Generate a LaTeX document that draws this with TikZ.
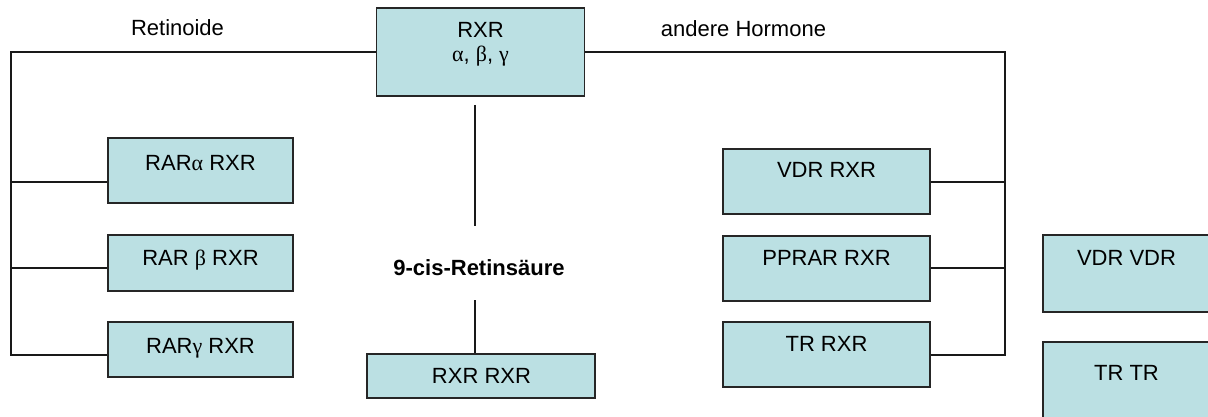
\documentclass[tikz,border=0pt]{standalone}
\usepackage{fontspec}
\setmainfont{Liberation Sans}
\newfontfamily\grkfont{Liberation Serif}
\newcommand\grk[1]{{\grkfont #1}}
\begin{document}
\begin{tikzpicture}[x=1pt,y=-1pt,
  box/.style={draw=black!85, line width=1.6pt, fill=boxfill, inner sep=0pt},
  txt/.style={anchor=base, inner sep=0pt, font=\fontsize{22}{26}\selectfont},
  conn/.style={draw=black!90, line width=1.5pt}]
\definecolor{boxfill}{RGB}{187,224,227}
\clip (0,0) rectangle (1208,417);
\fill[white] (0,0) rectangle (1208,417);

% receptor boxes
\node[box, minimum width=208pt, minimum height=88pt] (rxr)  at (480.5,52) {};
\node[box, minimum width=185pt, minimum height=65pt] (rara) at (200.5,170.5) {};
\node[box, minimum width=185pt, minimum height=56pt] (rarb) at (200.5,263) {};
\node[box, minimum width=185pt, minimum height=55pt] (rarg) at (200.5,349.5) {};
\node[box, minimum width=228pt, minimum height=44pt] (rr)   at (481,376) {};
\node[box, minimum width=207pt, minimum height=65pt] (vdr)  at (826.5,181.5) {};
\node[box, minimum width=207pt, minimum height=65pt] (ppr)  at (826.5,268.5) {};
\node[box, minimum width=207pt, minimum height=65pt] (tr)   at (826.5,354.5) {};
\node[box, minimum width=170pt, minimum height=77pt] (vv)   at (1128,273.5) {};
\node[box, minimum width=170pt, minimum height=100pt] (tt)  at (1128,392) {};

% box texts
\node[txt] (rxrt)  at (480.5,38) {RXR};
\node[txt] (rxrg)  at (480.5,62) {\grk{α}, \grk{β}, \grk{γ}};
\node[txt] (rarat) at (200.5,171) {RAR\grk{α} RXR};
\node[txt] (rarbt) at (200.5,265) {RAR \grk{β} RXR};
\node[txt] (rargt) at (200.5,353) {RAR\grk{γ} RXR};
\node[txt] (rrt)   at (481.5,383) {RXR RXR};
\node[txt] (vdrt)  at (826.5,178) {VDR RXR};
\node[txt] (pprt)  at (826.5,265) {PPRAR RXR};
\node[txt] (trt)   at (826.5,351) {TR RXR};
\node[txt] (vvt)   at (1126.5,265) {VDR VDR};
\node[txt] (ttt)   at (1126.5,380) {TR TR};

% free labels
\node[txt] (retl) at (177.5,36) {Retinoide};
\node[txt] (horl) at (743.5,37) {andere Hormone};
\node[txt, font=\fontsize{22}{26}\selectfont\bfseries] (cis) at (479,275) {9-cis-Retinsäure};

% trunk corners and branch points
\coordinate (ltop) at (11,52);
\coordinate (l1) at (11,182);
\coordinate (l2) at (11,268);
\coordinate (l3) at (11,355);
\coordinate (rtop) at (1005,52);
\coordinate (r1) at (1005,182);
\coordinate (r2) at (1005,268);
\coordinate (r3) at (1005,355);
\coordinate (v1) at (475,105);
\coordinate (v2) at (475,226);
\coordinate (v3) at (475,300);

% left branch: retinoids
\draw[conn] (rxr.west) -- (ltop) -- (l3) -- (l3 -| rarg.west);
\draw[conn] (l1) -- (l1 -| rara.west);
\draw[conn] (l2) -- (l2 -| rarb.west);

% right branch: other hormones
\draw[conn] (rxr.east) -- (rtop) -- (r3) -- (r3 -| tr.east);
\draw[conn] (r1) -- (r1 -| vdr.east);
\draw[conn] (r2) -- (r2 -| ppr.east);

% middle: homodimer via 9-cis retinoic acid
\draw[conn] (v1) -- (v2);
\draw[conn] (v3) -- (v3 |- rr.north);
\end{tikzpicture}
\end{document}
